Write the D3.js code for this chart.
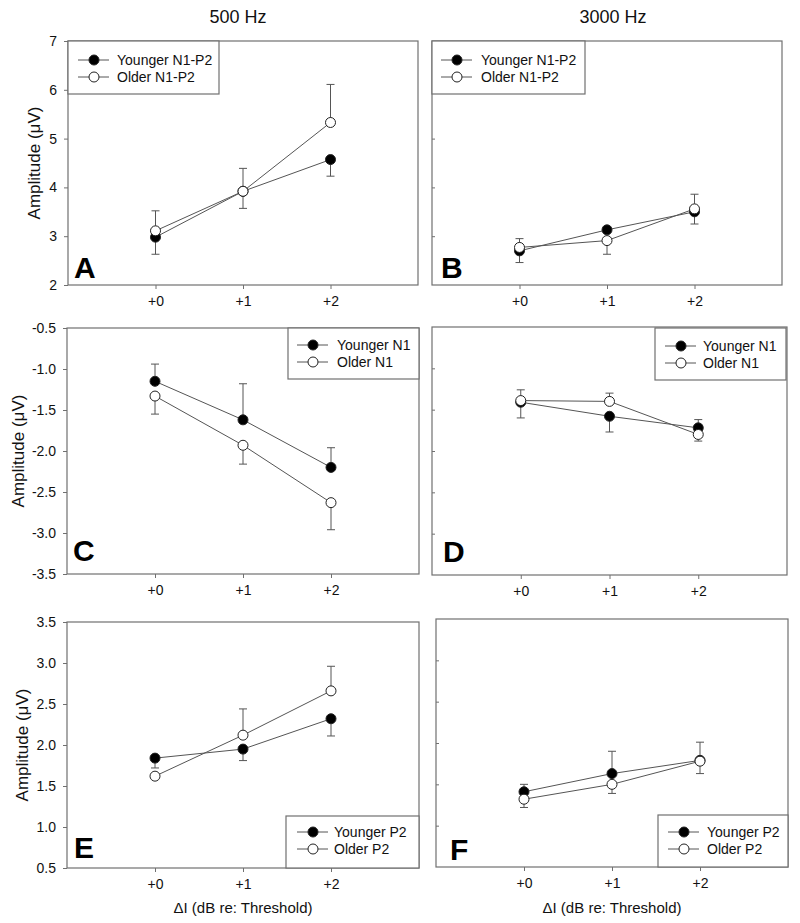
<!DOCTYPE html>
<html><head><meta charset="utf-8">
<script src="https://cdn.jsdelivr.net/npm/d3@7"></script>
<style>
body{margin:0;background:#fff;}
svg{display:block;font-family:"Liberation Sans",Arial,sans-serif;}
</style></head>
<body><svg id="chart" width="800" height="923"></svg>
<script>
// ---- data ----
const xCategories = [0, 1, 2];
const xTickLabels = ["+0", "+1", "+2"];
const columnTitles = ["500 Hz", "3000 Hz"];
const panelLetters = ["A", "B", "C", "D", "E", "F"];
const legendLabelsN1P2 = ["Younger N1-P2", "Older N1-P2"];
const legendLabelsN1 = ["Younger N1", "Older N1"];
const legendLabelsP2 = ["Younger P2", "Older P2"];
const yTicksN1P2 = [2, 3, 4, 5, 6, 7];
const yTicksN1 = [-3.5, -3.0, -2.5, -2.0, -1.5, -1.0, -0.5];
const yTicksP2 = [0.5, 1.0, 1.5, 2.0, 2.5, 3.0, 3.5];
const yAxisTitle = "Amplitude (\u03BCV)";
const xAxisTitle = "\u0394I (dB re: Threshold)";

// means and signed error bars (+ drawn upward, - drawn downward)
const youngerA = [2.98, 3.92, 4.57], youngerAErr = [-0.35, -0.35, -0.34];
const olderA   = [3.11, 3.92, 5.33], olderAErr   = [0.41, 0.47, 0.78];
const youngerB = [2.70, 3.13, 3.50], youngerBErr = [-0.24, -0.04, -0.25];
const olderB   = [2.77, 2.91, 3.56], olderBErr   = [0.18, -0.28, 0.30];
const youngerC = [-1.15, -1.62, -2.20], youngerCErr = [0.21, 0.44, 0.24];
const olderC   = [-1.33, -1.93, -2.63], olderCErr   = [-0.22, -0.23, -0.33];
const youngerD = [-1.41, -1.58, -1.72], youngerDErr = [-0.19, -0.19, 0.10];
const olderD   = [-1.39, -1.40, -1.80], olderDErr   = [0.13, 0.10, -0.08];
const youngerE = [1.84, 1.95, 2.32], youngerEErr = [-0.12, -0.14, -0.21];
const olderE   = [1.62, 2.12, 2.66], olderEErr   = [0.00, 0.32, 0.30];
const youngerF = [1.41, 1.63, 1.79], youngerFErr = [0.09, 0.27, 0.22];
const olderF   = [1.32, 1.50, 1.78], olderFErr   = [-0.10, -0.11, -0.15];

// ---- layout ----
const fmtInt = d3.format("d");
const fmt1 = v => d3.format(".1f")(v).replace("\u2212", "-");
const panels = [
  {letter: panelLetters[0], box: [68, 418, 41, 285], ticks: yTicksN1P2, fmt: fmtInt, labels: true,
   y: [youngerA, olderA], e: [youngerAErr, olderAErr], leg: legendLabelsN1P2, legBox: [68, 219, 41, 94], legRows: [60, 77], legMk: 94, legTx: 117,
   letterPos: [74, 278], yTitleX: 34},
  {letter: panelLetters[1], box: [432, 782, 41, 285], ticks: yTicksN1P2, fmt: fmtInt, labels: false,
   y: [youngerB, olderB], e: [youngerBErr, olderBErr], leg: legendLabelsN1P2, legBox: [432, 585, 41, 94], legRows: [60, 77], legMk: 457, legTx: 481,
   letterPos: [441, 278]},
  {letter: panelLetters[2], box: [67, 419, 328, 574], ticks: yTicksN1, fmt: fmt1, labels: true,
   y: [youngerC, olderC], e: [youngerCErr, olderCErr], leg: legendLabelsN1, legBox: [288, 419, 328, 379], legRows: [345, 362], legMk: 313, legTx: 337,
   letterPos: [73, 561], yTitleX: 18},
  {letter: panelLetters[3], box: [432, 787, 327, 575], ticks: yTicksN1, fmt: fmt1, labels: false,
   y: [youngerD, olderD], e: [youngerDErr, olderDErr], leg: legendLabelsN1, legBox: [655, 786, 328, 380], legRows: [346, 363], legMk: 681, legTx: 703,
   letterPos: [443, 562]},
  {letter: panelLetters[4], box: [67, 419, 622, 868], ticks: yTicksP2, fmt: fmt1, labels: true,
   y: [youngerE, olderE], e: [youngerEErr, olderEErr], leg: legendLabelsP2, legBox: [286, 419, 816, 868], legRows: [832, 849], legMk: 313, legTx: 334,
   letterPos: [74, 858], yTitleX: 22, xTitle: true},
  {letter: panelLetters[5], box: [436, 788, 619, 867], ticks: yTicksP2, fmt: fmt1, labels: false,
   y: [youngerF, olderF], e: [youngerFErr, olderFErr], leg: legendLabelsP2, legBox: [658, 788, 815, 867], legRows: [832, 849], legMk: 684, legTx: 707,
   letterPos: [450, 860], xTitle: true}
];

const svg = d3.select("#chart");
const frameColor = "#707070", lineColor = "#555", markStroke = "#222";
const fills = ["#000", "#fff"];

svg.append("text").attr("x", 238).attr("y", 23).attr("text-anchor", "middle").attr("font-size", 18).attr("fill", "#111").text(columnTitles[0]);
svg.append("text").attr("x", 613).attr("y", 23).attr("text-anchor", "middle").attr("font-size", 18).attr("fill", "#111").text(columnTitles[1]);

panels.forEach(p => {
  const [x0, x1, y0, y1] = p.box;
  const x = d3.scaleLinear().domain([-1, 3]).range([x0, x1]);
  const y = d3.scaleLinear().domain([d3.min(p.ticks), d3.max(p.ticks)]).range([y1, y0]);
  const g = svg.append("g");

  // y axis
  const ya = p.labels
    ? d3.axisLeft(y).tickValues(p.ticks).tickFormat(p.fmt).tickSize(4).tickPadding(7)
    : d3.axisLeft(y).tickValues(p.ticks.slice(1, -1)).tickFormat("").tickSize(-3);
  const yg = g.append("g").attr("transform", `translate(${x0},0)`).call(ya);
  yg.select(".domain").remove();
  yg.selectAll("line").attr("stroke", frameColor);
  yg.selectAll("text").attr("font-size", 14).attr("fill", "#111").attr("font-family", "Liberation Sans, Arial, sans-serif");

  // x axis
  const xa = d3.axisBottom(x).tickValues(xCategories).tickFormat((d, i) => xTickLabels[i]).tickSize(4).tickPadding(7);
  const xg = g.append("g").attr("transform", `translate(0,${y1})`).call(xa);
  xg.select(".domain").remove();
  xg.selectAll("line").attr("stroke", frameColor);
  xg.selectAll("text").attr("font-size", 14).attr("fill", "#111").attr("font-family", "Liberation Sans, Arial, sans-serif");

  // frame
  g.append("rect").attr("x", x0).attr("y", y0).attr("width", x1 - x0).attr("height", y1 - y0)
    .attr("fill", "none").attr("stroke", frameColor).attr("stroke-width", 1.2);

  // y title
  if (p.yTitleX) {
    g.append("text").attr("transform", `translate(${p.yTitleX},${(y0 + y1) / 2}) rotate(-90)`)
      .attr("text-anchor", "middle").attr("dominant-baseline", "central").attr("font-size", 17).attr("fill", "#111").text(yAxisTitle);
  }
  if (p.xTitle) {
    g.append("text").attr("x", (x0 + x1) / 2).attr("y", 913).attr("text-anchor", "middle")
      .attr("font-size", 15).attr("fill", "#111").text(xAxisTitle);
  }

  // panel letter
  g.append("text").attr("x", p.letterPos[0]).attr("y", p.letterPos[1]).attr("font-size", 30).attr("font-weight", "bold")
    .attr("fill", "#000").text(p.letter);

  // series lines
  const line = d3.line().x((d, i) => x(xCategories[i])).y(d => y(d));
  p.y.forEach(s => {
    g.append("path").datum(s).attr("d", line).attr("fill", "none").attr("stroke", lineColor).attr("stroke-width", 1);
  });
  // error bars
  p.y.forEach((s, si) => {
    s.forEach((v, i) => {
      const err = p.e[si][i];
      if (!err) return;
      const cx = x(xCategories[i]);
      g.append("line").attr("x1", cx).attr("x2", cx).attr("y1", y(v)).attr("y2", y(v + err)).attr("stroke", lineColor).attr("stroke-width", 1);
      g.append("line").attr("x1", cx - 4).attr("x2", cx + 4).attr("y1", y(v + err)).attr("y2", y(v + err)).attr("stroke", lineColor).attr("stroke-width", 1);
    });
  });
  // markers
  p.y.forEach((s, si) => {
    g.selectAll(null).data(s).enter().append("circle")
      .attr("cx", (d, i) => x(xCategories[i])).attr("cy", d => y(d)).attr("r", 5)
      .attr("fill", fills[si]).attr("stroke", markStroke).attr("stroke-width", 1);
  });

  // legend
  const [lx0, lx1, ly0, ly1] = p.legBox;
  g.append("rect").attr("x", lx0).attr("y", ly0).attr("width", lx1 - lx0).attr("height", ly1 - ly0)
    .attr("fill", "#fff").attr("stroke", frameColor).attr("stroke-width", 1.2);
  p.leg.forEach((lab, li) => {
    const ry = p.legRows[li];
    g.append("line").attr("x1", p.legMk - 16).attr("x2", p.legMk + 15).attr("y1", ry).attr("y2", ry).attr("stroke", lineColor);
    g.append("circle").attr("cx", p.legMk).attr("cy", ry).attr("r", 5).attr("fill", fills[li]).attr("stroke", markStroke);
    g.append("text").attr("x", p.legTx).attr("y", ry).attr("dominant-baseline", "central").attr("font-size", 14)
      .attr("fill", "#111").text(lab);
  });
});
</script></body></html>
